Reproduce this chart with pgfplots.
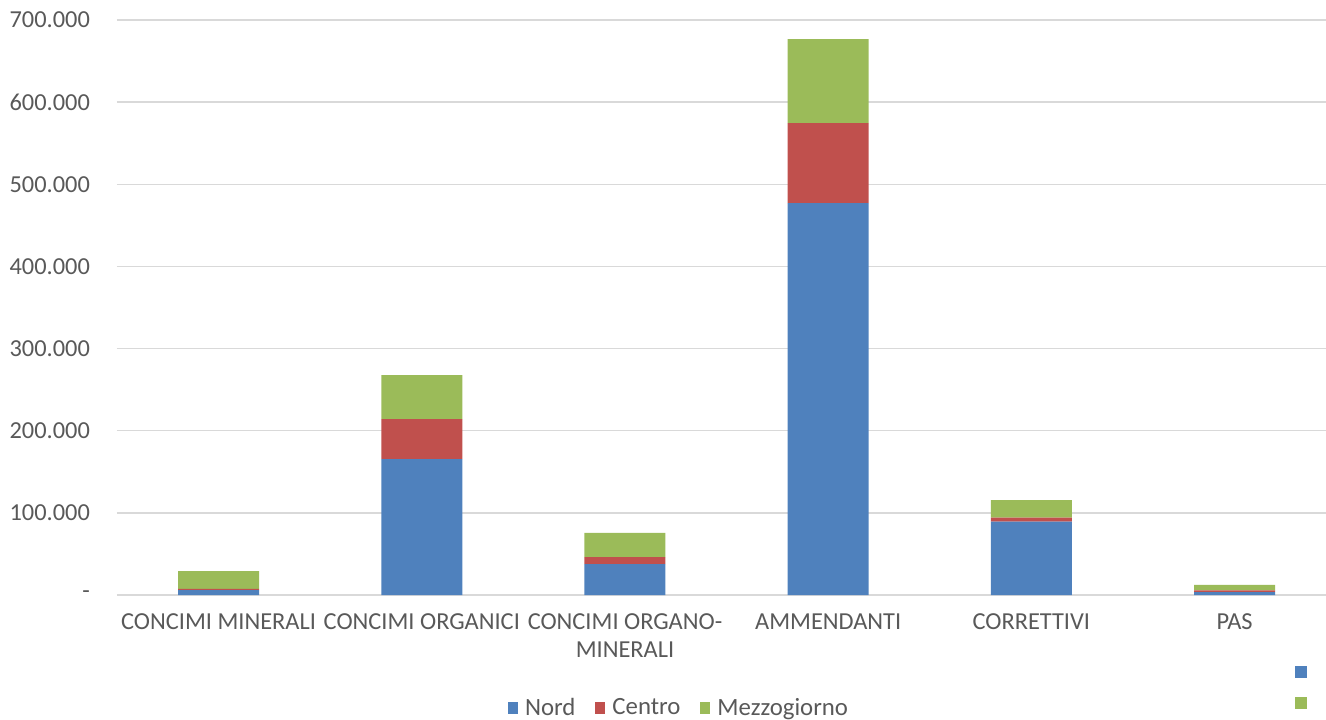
\documentclass[border=0pt]{standalone}
\usepackage{fontspec}
\setmainfont{Carlito}
\usepackage{pgfplots}
\pgfplotsset{compat=1.18}
\definecolor{nordc}{HTML}{4F81BD}
\definecolor{centroc}{HTML}{C0504D}
\definecolor{mezzc}{HTML}{9BBB59}
\definecolor{gridc}{HTML}{D9D9D9}
\definecolor{textc}{HTML}{595959}
\begin{document}
\begin{tikzpicture}
\path[use as bounding box] (-58.5pt,-62pt) rectangle (604.5pt,297.5pt);
\begin{axis}[
  at={(0,0)}, anchor=south west,
  scale only axis, width=604.5pt, height=287.5pt,
  ybar stacked, bar width=40.5pt,
  xmin=-0.5, xmax=5.45, ymin=0, ymax=700000,
  xtick={0,1,2,3,4,5},
  xticklabels={CONCIMI MINERALI, CONCIMI ORGANICI, {CONCIMI ORGANO-\\MINERALI}, AMMENDANTI, CORRETTIVI, PAS},
  ytick={0,100000,200000,300000,400000,500000,600000,700000},
  yticklabels={-\hspace{5pt}, 100.000, 200.000, 300.000, 400.000, 500.000, 600.000, 700.000},
  scaled y ticks=false,
  ymajorgrids, grid style={color=gridc, line width=0.75pt},
  axis x line*=bottom, axis y line*=left,
  y axis line style={draw=none},
  x axis line style={color=gridc, line width=0.75pt, -},
  tick style={draw=none}, major tick length=0pt,
  ticklabel style={font=\fontsize{12.2}{14}\selectfont, text=textc},
  xticklabel style={align=center, anchor=north, yshift=-6pt},
  yticklabel style={anchor=east, xshift=-10pt},
  legend style={at={(axis description cs:0.4657,-0.1965)}, anchor=center,
    draw=none, fill=none, legend columns=3,
    font=\fontsize{12.4}{14}\selectfont, text=textc,
    /tikz/every odd column/.append style={column sep=1.5pt},
    /tikz/every even column/.append style={column sep=8pt}},
  legend image code/.code={\path[#1] (0pt,-3pt) rectangle (5pt,3pt);},
]
\addplot[fill=nordc, draw=none] coordinates {(0,6000) (1,165500) (2,37700) (3,477000) (4,89200) (5,3600)};
\addplot[fill=centroc, draw=none] coordinates {(0,1500) (1,48700) (2,8500) (3,97500) (4,4900) (5,2100)};
\addplot[fill=mezzc, draw=none] coordinates {(0,21500) (1,53600) (2,29300) (3,102200) (4,21500) (5,6500)};
\legend{Nord, Centro, Mezzogiorno}
\end{axis}
\begin{axis}[
  at={(0,0)}, anchor=south west,
  scale only axis, width=604.5pt, height=287.5pt,
  hide axis, xmin=0, xmax=1, ymin=0, ymax=1,
  legend style={at={(axis description cs:0.9826,-0.134)}, anchor=center, draw=none, fill=none, inner sep=0pt},
  legend image code/.code={\path[#1] (0pt,-3pt) rectangle (6pt,3pt);},
]
\addlegendimage{fill=nordc, draw=none}
\addlegendentry{}
\end{axis}
\begin{axis}[
  at={(0,0)}, anchor=south west,
  scale only axis, width=604.5pt, height=287.5pt,
  hide axis, xmin=0, xmax=1, ymin=0, ymax=1,
  legend style={at={(axis description cs:0.9826,-0.188)}, anchor=center, draw=none, fill=none, inner sep=0pt},
  legend image code/.code={\path[#1] (0pt,-3pt) rectangle (6pt,3pt);},
]
\addlegendimage{fill=mezzc, draw=none}
\addlegendentry{}
\end{axis}
\end{tikzpicture}
\end{document}
